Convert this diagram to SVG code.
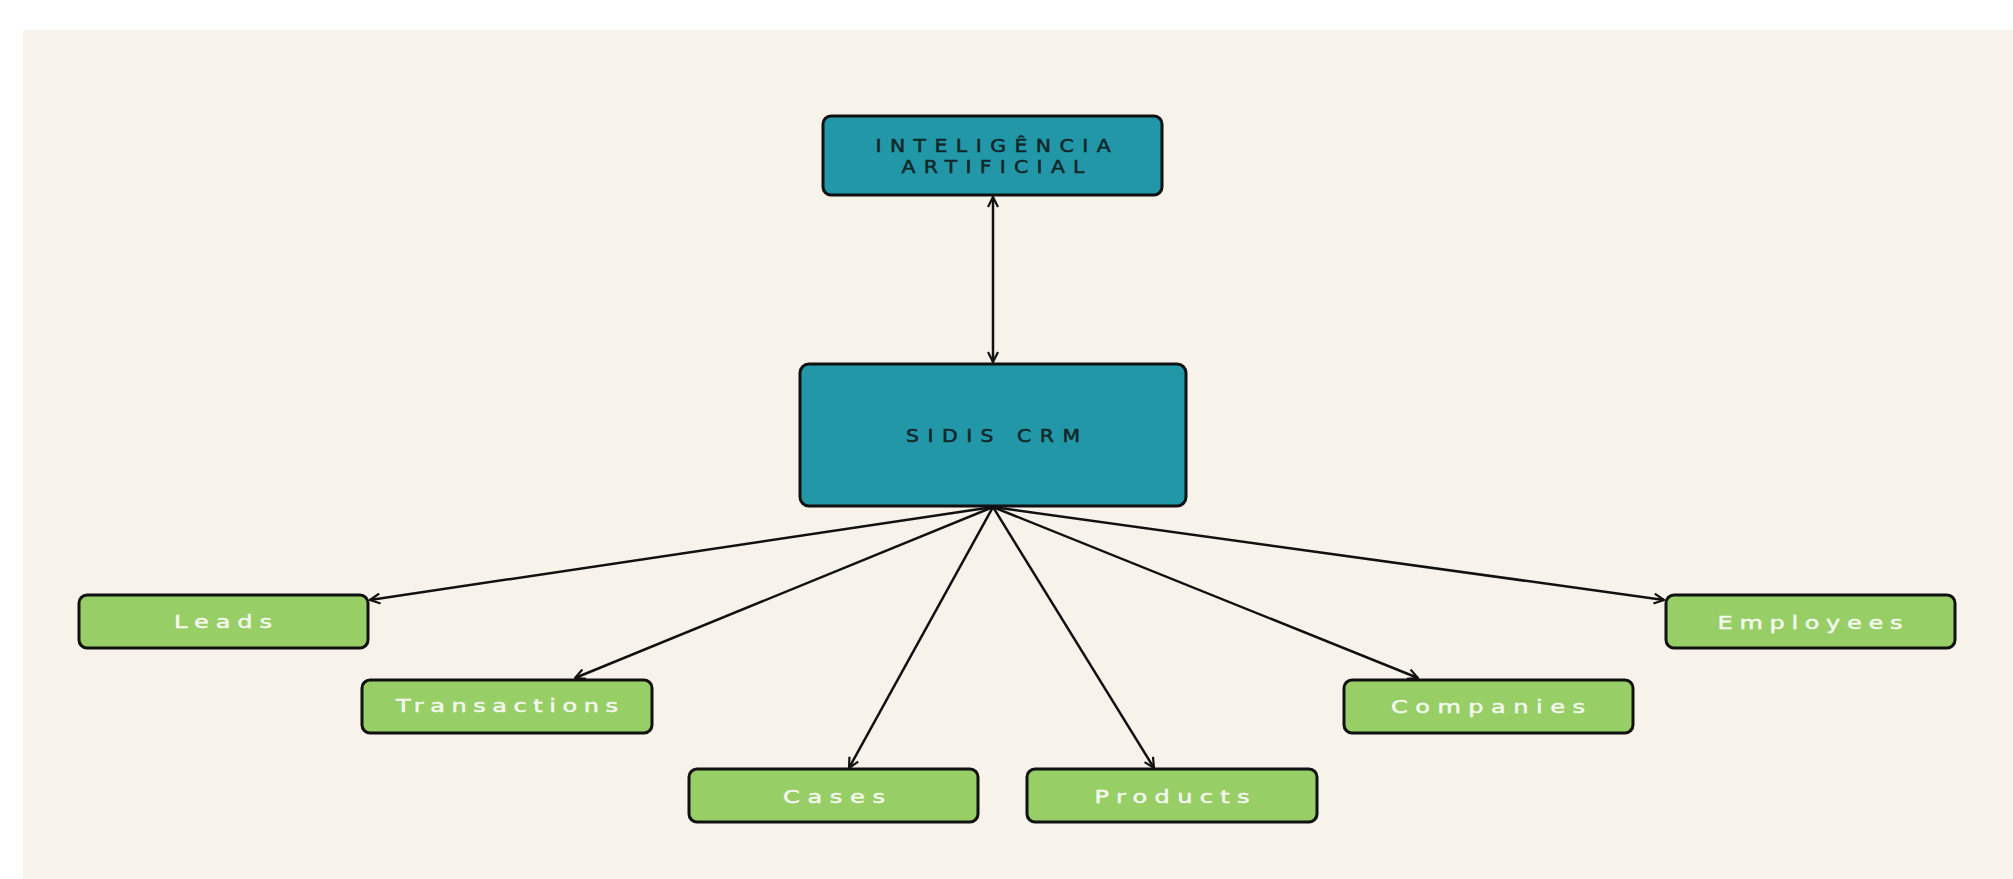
<svg xmlns="http://www.w3.org/2000/svg" width="2013" height="879" viewBox="0 0 2013 879">
<style>
.bg{fill:#f7f3eb}
.teal{fill:#2197a7;stroke:#111;stroke-width:3}
.green{fill:#97ce66;stroke:#111;stroke-width:3}
.dark{font-family:"DejaVu Sans",sans-serif;font-size:17px;fill:#13262a;stroke:#13262a;stroke-width:0.5;text-anchor:middle}
.light{font-family:"DejaVu Sans",sans-serif;font-size:18.5px;fill:#f5f8ef;stroke:#f5f8ef;stroke-width:0.5;text-anchor:middle}
.conn line{stroke:#111;stroke-width:2.5;fill:none}
</style>
<defs>
<marker id="arr" viewBox="0 0 12 12" refX="11" refY="6" markerWidth="12" markerHeight="12" markerUnits="userSpaceOnUse" orient="auto-start-reverse">
<path d="M1,1 L11,6 L1,11" fill="none" stroke="#111" stroke-width="2.2"/>
</marker>
</defs>
<rect x="0" y="0" width="2013" height="879" fill="#ffffff"/>
<rect class="bg" x="23" y="30" width="1990" height="849"/>
<g class="conn" id="connectors">
<line x1="993" y1="197" x2="993" y2="362" marker-start="url(#arr)" marker-end="url(#arr)"/>
<line x1="993" y1="507" x2="370" y2="600" marker-end="url(#arr)"/>
<line x1="993" y1="507" x2="575" y2="678" marker-end="url(#arr)"/>
<line x1="993" y1="507" x2="849" y2="768" marker-end="url(#arr)"/>
<line x1="993" y1="507" x2="1154" y2="768" marker-end="url(#arr)"/>
<line x1="993" y1="507" x2="1418" y2="678" marker-end="url(#arr)"/>
<line x1="993" y1="507" x2="1664" y2="600" marker-end="url(#arr)"/>
</g>
<g id="ai">
<rect class="teal" x="823" y="116" width="339" height="79" rx="8"/>
<text class="dark" transform="translate(993,152) scale(1.2,1)" textLength="196" lengthAdjust="spacing">INTELIGÊNCIA</text>
<text class="dark" transform="translate(993,173) scale(1.2,1)" textLength="152.5" lengthAdjust="spacing">ARTIFICIAL</text>
</g>
<g id="sidis">
<rect class="teal" x="800" y="364" width="386" height="142" rx="9"/>
<text class="dark" transform="translate(993,442) scale(1.2,1)" textLength="145" lengthAdjust="spacing">SIDIS CRM</text>
</g>
<g id="leads">
<rect class="green" x="79" y="595" width="289" height="53" rx="8"/>
<text class="light" transform="translate(223,628) scale(1.3,1)" textLength="75.4" lengthAdjust="spacing">Leads</text>
</g>
<g id="transactions">
<rect class="green" x="362" y="680" width="290" height="53" rx="8"/>
<text class="light" transform="translate(507,712) scale(1.3,1)" textLength="170.8" lengthAdjust="spacing">Transactions</text>
</g>
<g id="cases">
<rect class="green" x="689" y="769" width="289" height="53" rx="8"/>
<text class="light" transform="translate(834,803) scale(1.3,1)" textLength="78.5" lengthAdjust="spacing">Cases</text>
</g>
<g id="products">
<rect class="green" x="1027" y="769" width="290" height="53" rx="8"/>
<text class="light" transform="translate(1172,803) scale(1.3,1)" textLength="119.2" lengthAdjust="spacing">Products</text>
</g>
<g id="companies">
<rect class="green" x="1344" y="680" width="289" height="53" rx="8"/>
<text class="light" transform="translate(1488,713) scale(1.3,1)" textLength="149.2" lengthAdjust="spacing">Companies</text>
</g>
<g id="employees">
<rect class="green" x="1666" y="595" width="289" height="53" rx="8"/>
<text class="light" transform="translate(1810,629) scale(1.3,1)" textLength="142.3" lengthAdjust="spacing">Employees</text>
</g>
</svg>
